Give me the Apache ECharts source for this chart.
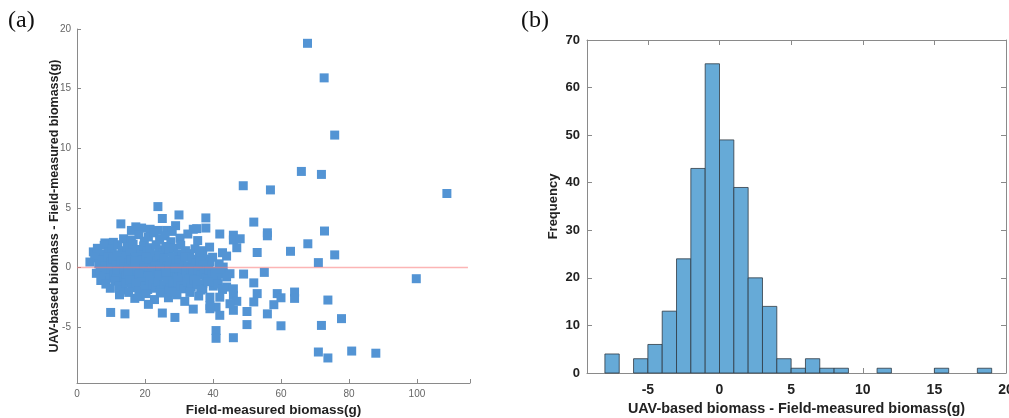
<!DOCTYPE html>
<html><head><meta charset="utf-8">
<script src="https://cdn.jsdelivr.net/npm/echarts@6/dist/echarts.min.js"></script>
<style>html,body{margin:0;padding:0;background:#fff}#c{width:1009px;height:418px}</style>
</head><body><div id="c"></div>
<script>
// ---- Panel (a): scatter of residual vs field-measured biomass ----
const sparseHigh = [[67.8,18.8],[72.7,15.9],[75.8,11.1],[66.0,8.05],[71.9,7.8],[48.9,6.85],[56.9,6.5],[108.8,6.2],[23.8,5.1],[30.0,4.4],[37.9,4.15],[25.1,4.1]];
const band3to4 = [[37.9,3.3],[52.0,3.8],[72.8,3.05],[12.9,3.65],[17.3,3.4],[19.0,3.3],[21.5,3.2],[34.2,3.2],[35.2,3.25],[29.0,3.5],[26.4,3.1],[23.9,3.1],[16.0,3.1],[28.0,3.02]];
const band2to3 = [[56.0,2.9],[56.0,2.65],[42.0,2.8],[46.0,2.7],[46.0,2.3],[48.0,2.4],[8.2,2.05],[10.7,2.1],[13.7,2.4],[16.0,2.3],[18.2,2.75],[19.8,2.2],[21.0,2.55],[22.6,2.9],[24.3,2.35],[25.9,2.65],[27.6,2.15],[30.3,2.45],[32.6,2.8],[35.5,2.25]];
const band1to2 = [[67.9,1.98],[62.8,1.35],[53.0,1.25],[75.8,1.05],[42.8,1.23],[37.0,1.4],[47.0,1.65],[4.8,1.3],
  [6.0,1.6],[7.2,1.1],[8.0,1.85],[9.3,1.3],[10.4,1.55],[11.3,1.05],[12.0,1.9],[13.2,1.4],[14.0,1.15],[14.8,1.7],[15.7,1.25],[16.5,1.95],[17.7,1.5],[18.8,1.1],[19.6,1.8],[20.6,1.35],[21.4,1.65],[22.2,1.05],[23.3,1.9],[24.0,1.45],[25.3,1.2],[26.1,1.75],[27.0,1.3],[28.4,1.6],[29.6,1.1],[30.5,1.85],[31.9,1.4],[33.1,1.15],[34.7,1.55],[36.0,1.25],[39.0,1.7]];
const band0to1 = [[71.0,0.4],[44.0,0.95],[38.1,0.7],[39.1,0.45],[43.0,0.03],[3.8,0.45],
  [5.2,0.8],[6.4,0.3],[7.5,0.6],[8.3,0.15],[9.1,0.9],[9.9,0.45],[10.6,0.7],[11.5,0.2],[12.2,0.95],[12.9,0.5],[13.7,0.25],[14.4,0.8],[15.3,0.4],[16.0,0.65],[16.8,0.1],[17.5,0.85],[18.3,0.35],[19.1,0.6],[19.7,0.15],[20.4,0.9],[21.1,0.45],[21.9,0.7],[22.7,0.2],[23.4,0.55],[24.2,0.95],[24.9,0.3],[25.7,0.75],[26.6,0.1],[27.4,0.5],[28.2,0.85],[29.1,0.25],[29.9,0.6],[30.9,0.4],[31.8,0.9],[32.7,0.15],[33.8,0.7],[34.9,0.35],[36.1,0.55],[37.2,0.2],[39.9,0.85],[41.8,0.3],[17.0,0.5],[23.0,0.1]];
const bandM1to0 = [[43.0,-0.53],[45.0,-0.53],[44.0,-0.8],[49.0,-0.56],[55.1,-0.42],[99.8,-0.95],
  [5.7,-0.5],[6.8,-0.2],[7.9,-0.75],[8.6,-0.35],[9.4,-0.9],[10.1,-0.15],[10.9,-0.6],[11.7,-0.3],[12.3,-0.85],[13.0,-0.45],[13.8,-0.1],[14.5,-0.7],[15.1,-0.25],[15.9,-0.95],[16.6,-0.5],[17.2,-0.15],[17.9,-0.8],[18.5,-0.4],[19.3,-0.65],[19.8,-0.05],[20.5,-0.9],[21.2,-0.3],[21.8,-0.55],[22.5,-0.2],[23.2,-0.85],[23.8,-0.45],[24.4,-0.1],[25.1,-0.7],[25.8,-0.35],[26.5,-0.95],[27.1,-0.2],[27.9,-0.6],[28.6,-0.4],[29.3,-0.8],[30.0,-0.15],[30.8,-0.55],[31.4,-0.9],[32.1,-0.3],[32.9,-0.7],[33.5,-0.1],[34.2,-0.5],[35.0,-0.85],[35.7,-0.25],[36.5,-0.65],[37.3,-0.4],[38.0,-0.9],[38.8,-0.2],[39.7,-0.6],[40.6,-0.35],[41.3,-0.8],[42.1,-0.15],[20.9,-0.75],[18.1,-0.55],[24.1,-0.65],[28.9,-0.05],[14.9,-0.4],[11.4,-0.95],[26.2,-0.5],[33.0,-0.95]];
const bandM2toM1 = [[37.0,-1.37],[37.0,-1.8],[40.1,-1.1],[40.1,-1.57],[44.0,-1.65],[46.0,-1.8],[52.0,-1.3],[7.0,-1.1],
  [8.5,-1.4],[9.8,-1.75],[11.2,-1.15],[12.4,-1.6],[13.6,-1.9],[14.3,-1.3],[15.5,-1.05],[16.1,-1.7],[17.4,-1.35],[18.2,-1.95],[19.0,-1.2],[19.9,-1.6],[20.8,-1.85],[21.5,-1.1],[22.3,-1.45],[23.1,-1.75],[23.9,-1.25],[24.8,-1.9],[25.6,-1.5],[26.4,-1.15],[27.3,-1.7],[28.1,-1.35],[29.0,-1.95],[29.8,-1.1],[30.7,-1.55],[31.5,-1.8],[32.4,-1.25],[33.6,-1.65],[34.5,-1.05],[35.3,-1.45],[36.4,-1.9],[38.6,-1.2],[41.5,-1.4],[42.8,-1.85],[27.0,-1.99]];
const bandM3toM2 = [[53.0,-2.2],[58.9,-2.2],[60.0,-2.55],[64.0,-2.07],[64.0,-2.6],[39.1,-2.5],[42.0,-2.5],[46.0,-2.35],[47.0,-2.85],[52.0,-2.9],[73.8,-2.74],[17.0,-2.6],
  [12.5,-2.3],[15.2,-2.1],[18.6,-2.45],[20.3,-2.2],[22.8,-2.7],[24.5,-2.15],[26.9,-2.55],[29.4,-2.3],[31.7,-2.85],[33.2,-2.1],[35.8,-2.4],[27.8,-2.05]];
const sparseLow = [[39.1,-3.47],[40.9,-3.33],[46.0,-3.6],[50.0,-3.7],[56.0,-3.9],[57.9,-3.13],[9.9,-3.78],[14.1,-3.9],[25.1,-3.83],[45.0,-3.05],[34.2,-3.5],[39.1,-3.2],[21.0,-3.1],
  [50.0,-4.8],[60.0,-4.9],[71.9,-4.87],[77.8,-4.3],[42.0,-4.02],[28.8,-4.2],
  [40.9,-5.3],[40.9,-5.95],[46.0,-5.9],
  [71.0,-7.1],[73.8,-7.6],[80.8,-7.02],[87.9,-7.2]];
const zeroLine = [[0,0],[115,0]];

// ---- Panel (b): histogram of residuals ----
const binWidth = 1;
const binStarts = [-8,-7,-6,-5,-4,-3,-2,-1,0,1,2,3,4,5,6,7,8,9,10,11,12,13,14,15,16,17,18];
const binCounts = [4,0,3,6,13,24,43,65,49,39,20,14,3,1,3,1,1,0,0,1,0,0,0,1,0,0,1];

const scatterData = [].concat(sparseHigh, band3to4, band2to3, band1to2, band0to1, bandM1to0, bandM2toM1, bandM3toM2, sparseLow);
const histData = binStarts.map((s,i)=>[s, s+binWidth, binCounts[i]]).filter(d=>d[2]>0);

const FONT = 'Arial, "Liberation Sans", Helvetica, sans-serif';
const grayLine = {show:true, onZero:false, lineStyle:{color:'#8a8a8a', width:1}};

const chart = echarts.init(document.getElementById('c'), null, {renderer:'canvas'});
chart.setOption({
  animation:false,
  backgroundColor:'#fff',
  graphic:[
    {type:'text', left:8, top:9, style:{text:'(a)', font:'24px "Liberation Serif", "Times New Roman", serif', fill:'#111'}},
    {type:'text', left:521, top:9, style:{text:'(b)', font:'24px "Liberation Serif", "Times New Roman", serif', fill:'#111'}}
  ],
  grid:[
    {left:77, top:29, width:393, height:354, outerBoundsMode:'none', containLabel:false},
    {left:587, top:40, width:419, height:333, outerBoundsMode:'none', containLabel:false}
  ],
  xAxis:[
    {gridIndex:0, type:'value', min:0, max:115.6, splitNumber:6,
      axisLine:grayLine, axisTick:{inside:true, length:4, lineStyle:{color:'#8a8a8a'}},
      axisLabel:{color:'#666', fontSize:10, fontFamily:FONT, margin:6, formatter:v=> (Math.abs(v%20)<1e-9 ? String(v) : '')},
      splitLine:{show:false},
      name:'Field-measured biomass(g)', nameLocation:'middle', nameGap:20, nameMoveOverlap:false,
      nameTextStyle:{fontSize:13.5, fontWeight:'bold', color:'#222', fontFamily:FONT}},
    {gridIndex:1, type:'value', min:-9.25, max:20, splitNumber:6,
      axisLine:grayLine, axisTick:{inside:true, length:5, lineStyle:{color:'#8a8a8a'}},
      axisLabel:{color:'#222', fontSize:14, fontWeight:'bold', fontFamily:FONT, margin:10, formatter:v=> (Math.abs(v%5)<1e-9 ? String(v) : '')},
      splitLine:{show:false},
      name:'UAV-based biomass - Field-measured biomass(g)', nameLocation:'middle', nameGap:29, nameMoveOverlap:false,
      nameTextStyle:{fontSize:14.4, fontWeight:'bold', color:'#222', fontFamily:FONT}},
    {gridIndex:1, type:'value', position:'top', min:-9.25, max:20, splitNumber:6,
      axisLine:grayLine, axisTick:{inside:true, length:5, lineStyle:{color:'#8a8a8a'}},
      axisLabel:{show:false}, splitLine:{show:false}}
  ],
  yAxis:[
    {gridIndex:0, type:'value', min:-9.7, max:20, splitNumber:6,
      axisLine:grayLine, axisTick:{inside:true, length:4, lineStyle:{color:'#8a8a8a'}},
      axisLabel:{color:'#666', fontSize:10, fontFamily:FONT, margin:6, formatter:v=> (Math.abs(v%5)<1e-9 ? String(v) : '')},
      splitLine:{show:false},
      name:'UAV-based biomass - Field-measured biomass(g)', nameLocation:'middle', nameGap:16, nameMoveOverlap:false,
      nameTextStyle:{fontSize:12.5, fontWeight:'bold', color:'#222', fontFamily:FONT}},
    {gridIndex:1, type:'value', min:0, max:70, interval:10,
      axisLine:grayLine, axisTick:{inside:true, length:5, lineStyle:{color:'#8a8a8a'}},
      axisLabel:{color:'#222', fontSize:13, fontWeight:'bold', fontFamily:FONT, margin:7},
      splitLine:{show:false},
      name:'Frequency', nameLocation:'middle', nameGap:27, nameMoveOverlap:false,
      nameTextStyle:{fontSize:13, fontWeight:'bold', color:'#222', fontFamily:FONT}},
    {gridIndex:1, type:'value', position:'right', min:0, max:70, interval:10,
      axisLine:grayLine, axisTick:{inside:true, length:5, lineStyle:{color:'#8a8a8a'}},
      axisLabel:{show:false}, splitLine:{show:false}}
  ],
  series:[
    {type:'scatter', xAxisIndex:0, yAxisIndex:0, data:scatterData, symbol:'rect', symbolSize:9,
      itemStyle:{color:'#5394d4', opacity:1}, z:2},
    {type:'line', xAxisIndex:0, yAxisIndex:0, data:zeroLine, symbol:'none',
      lineStyle:{color:'rgba(250,120,120,0.55)', width:1.5}, z:3},
    {type:'custom', xAxisIndex:1, yAxisIndex:1, data:histData, encode:{x:[0,1], y:2},
      renderItem:(params, api)=>{
        const p0 = api.coord([api.value(0), api.value(2)]);
        const p1 = api.coord([api.value(1), 0]);
        return {type:'rect', shape:{x:p0[0], y:p0[1], width:p1[0]-p0[0], height:p1[1]-p0[1]},
          style:{fill:'#66aad7', stroke:'#2e3a44', lineWidth:0.8}};
      }, z:2}
  ]
});
</script></body></html>
